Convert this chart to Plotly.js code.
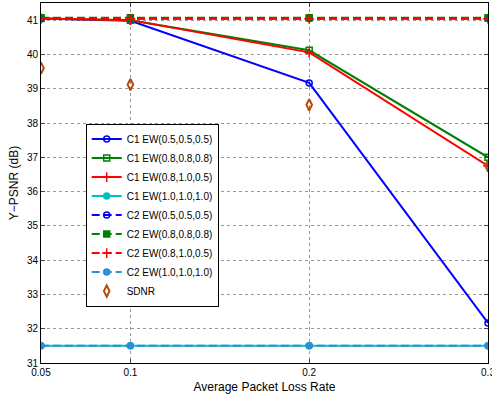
<!DOCTYPE html>
<html><head><meta charset="utf-8">
<script src="https://cdn.plot.ly/plotly-3.0.1.min.js"></script>
<style>html,body{margin:0;padding:0;background:#fff}#chart{width:492px;height:398px}</style>
</head><body><div id="chart"></div>
<script>
const lossRates = [0.05, 0.1, 0.2, 0.3];
const c1_05 = [41.05, 40.98, 39.17, 32.17];
const c1_08 = [41.05, 41.0, 40.12, 37.0];
const c1_0810 = [41.05, 41.0, 40.06, 36.75];
const c1_10 = [31.5, 31.5, 31.5, 31.5];
const c2_05 = [41.05, 41.05, 41.05, 41.05];
const c2_08 = [41.07, 41.07, 41.07, 41.07];
const c2_0810 = [41.04, 41.04, 41.04, 41.04];
const c2_10 = [31.5, 31.5, 31.5, 31.5];
const sdnr = [39.6, 39.12, 38.53, 36.75];
const names = ['C1 EW(0.5,0.5,0.5)','C1 EW(0.8,0.8,0.8)','C1 EW(0.8,1.0,0.5)','C1 EW(1.0,1.0,1.0)',
  'C2 EW(0.5,0.5,0.5)','C2 EW(0.8,0.8,0.8)','C2 EW(0.8,1.0,0.5)','C2 EW(1.0,1.0,1.0)','SDNR'];
const xTicks = [0.05, 0.1, 0.2, 0.3];
const yTicks = [31,32,33,34,35,36,37,38,39,40,41];

function tr(y, name, color, dash, symbol, msize) {
  return {x: lossRates, y: y, name: name, type: 'scatter', mode: 'lines+markers',
    line: {color: color, width: 2, dash: dash},
    marker: {symbol: symbol, size: msize, color: color, line: {color: color, width: 1.5}}};
}
const DASH = '8px,4px';
const data = [
  tr(c1_05, names[0], '#0000ff', 'solid', 'circle-open', 6),
  tr(c1_08, names[1], '#008000', 'solid', 'square-open', 6),
  tr(c1_0810, names[2], '#ff0000', 'solid', 'cross-thin-open', 7),
  tr(c1_10, names[3], '#00bfbf', 'solid', 'circle', 6),
  tr(c2_05, names[4], '#0000ff', DASH, 'circle-open', 6),
  tr(c2_08, names[5], '#008000', DASH, 'square', 6),
  tr(c2_0810, names[6], '#ff0000', DASH, 'cross-thin-open', 7),
  tr(c2_10, names[7], '#2b8fd6', DASH, 'circle', 6),
  {x: lossRates, y: sdnr, name: names[8], type: 'scatter', mode: 'markers',
    marker: {symbol: 'diamond-tall-open', size: 8, color: '#b5490f', line: {color: '#b5490f', width: 2}}}
];
const layout = {
  width: 492, height: 398,
  margin: {l: 41, r: 4, t: 3, b: 35},
  paper_bgcolor: '#fff', plot_bgcolor: '#fff',
  font: {family: 'Liberation Sans, Arial, sans-serif', size: 10, color: '#000'},
  showlegend: true,
  legend: {x: 0.1, y: 0.665, xanchor: 'left', yanchor: 'top', bordercolor: '#000', borderwidth: 1,
    bgcolor: '#fff', font: {size: 10}, tracegroupgap: 0},
  xaxis: {range: [0.05, 0.3], tickvals: xTicks, ticktext: xTicks.map(String), ticks: 'inside', ticklen: 4,
    ticklabeloverflow: 'allow',
    showline: true, mirror: 'ticks', linecolor: '#000', linewidth: 1,
    showgrid: true, gridcolor: '#999', griddash: 'dot', gridwidth: 1, zeroline: false,
    title: {text: 'Average Packet Loss Rate', font: {size: 12}, standoff: 5}},
  yaxis: {range: [31, 41.5], tickvals: yTicks, ticks: 'inside', ticklen: 4,
    showline: true, mirror: 'ticks', linecolor: '#000', linewidth: 1,
    showgrid: true, gridcolor: '#999', griddash: 'dot', gridwidth: 1, zeroline: false,
    title: {text: 'Y\u2212PSNR (dB)', font: {size: 12}, standoff: 5}}
};
Plotly.newPlot('chart', data, layout, {displayModeBar: false, staticPlot: true});
</script></body></html>
